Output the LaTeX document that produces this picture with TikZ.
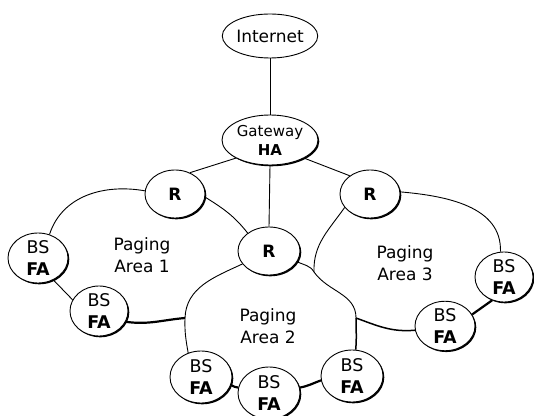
\documentclass[tikz,border=0pt]{standalone}
\usepackage{fontspec}
\setmainfont{DejaVu Sans}
\usetikzlibrary{shapes.geometric,shadows}
\begin{document}
\begin{tikzpicture}[x=1pt,y=1pt,
 base/.style={ellipse,draw,line width=0.9pt,fill=white,inner sep=0pt,align=center},
 sh/.style={drop shadow={shadow xshift=1.3pt,shadow yshift=-1.3pt,fill=black,opacity=1}},
 rnode/.style={base,sh,minimum width=60pt,minimum height=48pt,font=\fontsize{17}{20}\selectfont\bfseries},
 bsnode/.style={base,sh,minimum width=60pt,minimum height=50pt,font=\fontsize{17.5}{22}\selectfont},
 topnode/.style={base,font=\fontsize{17}{20}\selectfont},
 lab/.style={align=center,font=\fontsize{17}{22}\selectfont},
 thin/.style={line width=0.9pt},
 thick2/.style={line width=2.2pt},
 mid2/.style={line width=1.5pt}]
\useasboundingbox (0,0) rectangle (534,415);
% top
\node[topnode,minimum width=92pt,minimum height=44pt] (inet) at (270,379) {Internet};
\node[topnode,sh,minimum width=96pt,minimum height=50pt,font=\fontsize{15}{19}\selectfont] (gw) at (270,275) {Gateway\\\textbf{HA}};
% routers
\node[rnode] (rl) at (175,221) {R};
\node[rnode] (rr) at (370,221) {R};
\node[rnode,minimum width=62pt] (rc) at (269,164) {R};
% base stations
\node[bsnode] (bs1) at (38,157) {BS\\\textbf{FA}};
\node[bsnode,minimum width=58pt] (bs2) at (99,104) {BS\\\textbf{FA}};
\node[bsnode,minimum width=62pt,minimum height=52pt] (bs4) at (201,38) {BS\\\textbf{FA}};
\node[bsnode,minimum width=62pt,minimum height=52pt] (bs5) at (269,22) {BS\\\textbf{FA}};
\node[bsnode,minimum width=62pt,minimum height=52pt] (bs6) at (352,39) {BS\\\textbf{FA}};
\node[bsnode,minimum height=48pt] (bs7) at (445,89) {BS\\\textbf{FA}};
\node[bsnode,minimum width=58pt] (bs8) at (504,138) {BS\\\textbf{FA}};
% labels
\node[lab] (pa1) at (142,160) {Paging\\Area 1};
\node[lab] (pa2) at (268,89) {Paging\\Area 2};
\node[lab] (pa3) at (405,152) {Paging\\Area 3};
% points on the outline of paging area 2
\coordinate (a2w) at (185,97);
\coordinate (a2ne) at (314,143);
\coordinate (a2e) at (356,97);
% links
\draw[thin] (inet.south) -- (gw.north);
\draw[thin] (gw.208) -- (rl.55);
\draw[thin] (gw.-28) -- (rr.138);
\draw[thin] (gw.south) -- (rc.north);
% paging area 1
\draw[thin] (rl.174) to[out=170,in=72] (bs1.64);
\draw[thin] (rl.-6) to[out=-32,in=128] (rc.140);
\draw[thin] (bs1.-55) -- (bs2.157);
\draw[thick2] (bs2.-22) to[out=-8,in=185] (a2w);
% paging area 2
\draw[thin] (rc.206) to[out=205,in=88] (a2w) to[out=-92,in=100] (bs4.118);
\draw[thin] (rc.-21) to[out=-25,in=120] (a2ne) to[out=-55,in=90] (a2e);
\draw[mid2] (a2e) to[out=-90,in=85] (bs6.82);
\draw[thick2] (bs4.-15) to[out=-15,in=190] (bs5.170);
\draw[thick2] (bs5.10) to[out=10,in=200] (bs6.188);
% paging area 3
\draw[thin] (rr.4) to[out=-5,in=88] (bs8.98);
\draw[thin] (rr.208) to[out=235,in=92] (a2ne);
\draw[thick2] (bs8.243) -- (bs7.23);
\draw[mid2] (bs7.188) to[out=185,in=-20] (a2e);
\end{tikzpicture}
\end{document}
